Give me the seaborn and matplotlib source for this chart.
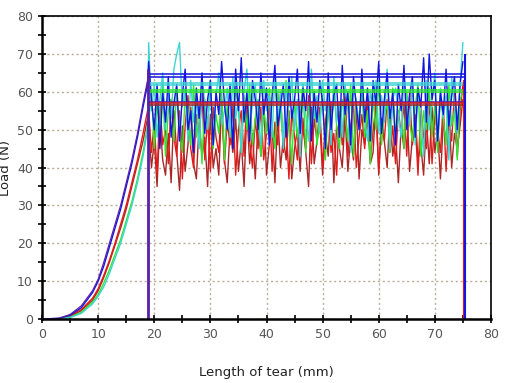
import numpy as np
import pandas as pd
import matplotlib
matplotlib.use("Agg")
import matplotlib.pyplot as plt
import seaborn as sns
from matplotlib.ticker import MultipleLocator

# rampa inicial (antes del desgarro)
ramp_x = [0, 3, 5, 7, 9, 10, 11, 12, 13, 14, 15, 16, 17, 18, 18.8]
ramp_blue = [0, 0.2, 1, 3, 7, 10, 14, 19, 24, 29, 35, 41, 48, 56, 62]
ramp_purple = [0, 0.2, 1.2, 3.5, 7.5, 10.5, 15, 20, 25, 30, 36, 42, 49, 57, 63]
ramp_red = [0, 0.1, 0.8, 2.5, 5.5, 8, 11.5, 15.5, 20, 25, 30, 36, 42, 49, 55]
ramp_darkred = [0, 0.1, 0.7, 2.2, 5, 7.5, 11, 15, 19.5, 24, 29, 35, 41, 47, 53]
ramp_green = [0, 0.1, 0.5, 1.8, 4.5, 6.5, 9.5, 13, 17, 21, 26, 31, 37, 44, 51]
ramp_cyan = [0, 0, 0.4, 1.5, 4, 6, 8.5, 12, 16, 20, 25, 30, 36, 43, 50]

# zona de desgarro, de 19 a 75 mm cada 0.5 mm
tear_x = np.arange(19, 75.01, 0.5)
blue = [68, 58, 50, 62, 45, 60, 52, 64, 48, 57,
        62, 47, 59, 66, 50, 55, 44, 61, 53, 65,
        49, 58, 63, 46, 60, 54, 68, 57, 50, 62,
        45, 66, 55, 69, 52, 60, 47, 63, 58, 50,
        65, 54, 61, 46, 59, 67, 51, 56, 62, 48,
        64, 53, 58, 66, 49, 61, 55, 68, 47, 60,
        52, 63, 57, 45, 65, 50, 59, 62, 48, 67,
        54, 60, 46, 64, 56, 50, 66, 52, 61, 47,
        63, 57, 68, 49, 58, 65, 53, 60, 46, 62,
        55, 67, 50, 59, 64, 48, 61, 56, 69, 52,
        70, 58, 63, 47, 60, 54, 66, 51, 59, 64,
        50, 62, 68]
red = [55, 44, 52, 38, 57, 46, 50, 41, 58, 48,
       43, 55, 37, 51, 59, 45, 40, 54, 47, 60,
       42, 53, 39, 56, 48, 44, 58, 41, 52, 46,
       57, 38, 50, 55, 43, 59, 47, 40, 53, 45,
       56, 42, 49, 58, 39, 52, 46, 60, 44, 51,
       37, 55, 48, 42, 57, 50, 45, 59, 41, 53,
       47, 56, 40, 52, 58, 44, 49, 38, 55, 46,
       60, 43, 51, 57, 40, 48, 54, 45, 59, 42,
       50, 56, 39, 53, 47, 58, 44, 51, 41, 55,
       49, 57, 43, 60, 46, 52, 38, 56, 48, 45,
       58, 41, 54, 50, 44, 57, 39, 53, 47, 60,
       43, 55, 62]
darkred = [50, 40, 47, 35, 53, 42, 38, 49, 36, 55,
           44, 34, 51, 39, 46, 56, 41, 37, 52, 43,
           48, 35, 54, 40, 45, 38, 57, 42, 36, 50,
           44, 53, 39, 47, 35, 55, 41, 49, 37, 52,
           43, 58, 38, 46, 51, 36, 54, 40, 48, 42,
           55, 37, 45, 50, 39, 53, 44, 35, 56, 41,
           47, 52, 38, 49, 43, 57, 36, 51, 45, 40,
           54, 39, 48, 42, 56, 37, 50, 46, 53, 41,
           44, 58, 38, 52, 47, 40, 55, 43, 49, 36,
           51, 45, 57, 39, 48, 54, 42, 46, 38, 53,
           41, 56, 44, 50, 37, 52, 47, 55, 40, 49,
           45, 51, 58]
green = [52, 60, 45, 57, 49, 62, 43, 55, 58, 47,
         61, 50, 44, 59, 53, 46, 62, 48, 56, 41,
         58, 51, 63, 45, 54, 49, 60, 42, 57, 52,
         47, 61, 55, 44, 59, 50, 62, 46, 53, 58,
         43, 56, 49, 61, 51, 45, 60, 54, 47, 63,
         52, 41, 58, 48, 55, 62, 44, 57, 50, 60,
         46, 53, 59, 42, 56, 49, 61, 51, 45, 58,
         54, 47, 62, 43, 57, 52, 60, 48, 55, 41,
         59, 50, 63, 46, 54, 57, 44, 61, 49, 53,
         58, 45, 60, 52, 47, 56, 62, 43, 55, 50,
         61, 48, 57, 44, 59, 53, 46, 62, 51, 55,
         42, 58, 60]
cyan = [73, 55, 62, 48, 58, 65, 50, 60, 53, 66,
        70, 73, 56, 61, 47, 63, 52, 58, 45, 64,
        57, 50, 62, 46, 59, 65, 51, 55, 61, 48,
        64, 53, 58, 44, 60, 66, 49, 57, 62, 51,
        46, 63, 55, 59, 48, 65, 52, 60, 45, 61,
        56, 64, 50, 58, 43, 62, 54, 47, 66, 53,
        59, 49, 63, 55, 60, 46, 64, 52, 57, 48,
        62, 55, 44, 61, 58, 50, 65, 53, 47, 60,
        56, 63, 49, 59, 52, 66, 45, 58, 61, 54,
        48, 64, 57, 51, 62, 46, 60, 55, 43, 63,
        50, 58, 65, 47, 61, 53, 59, 42, 64, 56,
        49, 62, 73]

# niveles medios (lineas horizontales)
mean_names = ["blue", "blue", "cyan", "cyan", "green", "green", "purple", "red", "darkred"]
mean_levels = [64.8, 63.8, 62.3, 61.7, 60.5, 60.0, 57.3, 57.0, 56.6]
x_start, x_end = 18.8, 75.3

colors = {"blue": "#1414e0", "purple": "#5a1fa8", "red": "#e41a1a",
          "darkred": "#a82828", "green": "#2ee62e", "cyan": "#3fd3d3"}

sns.set_style("white")
fig, ax = plt.subplots(figsize=(5.13, 3.83), dpi=100)
fig.subplots_adjust(left=0.082, right=0.957, bottom=0.167, top=0.958)

series = [("darkred", ramp_darkred, darkred), ("red", ramp_red, red),
          ("green", ramp_green, green), ("cyan", ramp_cyan, cyan),
          ("blue", ramp_blue, blue)]
for name, ramp, noise in series:
    df = pd.DataFrame({"x": list(ramp_x) + list(tear_x), "y": list(ramp) + list(noise)})
    sns.lineplot(data=df, x="x", y="y", color=colors[name], lw=1.0,
                 sort=False, estimator=None, ax=ax)

df_p = pd.DataFrame({"x": ramp_x, "y": ramp_purple})
sns.lineplot(data=df_p, x="x", y="y", color=colors["purple"], lw=0.9, sort=False, estimator=None, ax=ax)

for name, lvl in zip(mean_names, mean_levels):
    ax.hlines(lvl, x_start, x_end, color=colors[name], lw=1.1)

# lineas verticales inicio/fin
ax.vlines(x_start, 0, 66, color=colors["purple"], lw=2)
ax.vlines(x_end - 0.15, 0, 63, color=colors["red"], lw=1.5)
ax.vlines(x_end, 0, 70, color=colors["blue"], lw=1.5)

ax.set_xlim(0, 80)
ax.set_ylim(0, 80)
ax.xaxis.set_major_locator(MultipleLocator(10))
ax.xaxis.set_minor_locator(MultipleLocator(5))
ax.yaxis.set_major_locator(MultipleLocator(10))
ax.yaxis.set_minor_locator(MultipleLocator(5))
ax.tick_params(which="both", direction="inout", length=6, width=1.2, color="black",
               labelsize=9, labelcolor="#555555", bottom=True, left=True)
ax.grid(True, which="major", linestyle=(0, (1.5, 2)), color="#b8ae98", lw=1)
for side in ["left", "bottom"]:
    ax.spines[side].set_linewidth(1.8)
    ax.spines[side].set_color("black")
for side in ["top", "right"]:
    ax.spines[side].set_linewidth(1.2)
    ax.spines[side].set_color("black")

ax.set_xlabel("Length of tear (mm)", fontsize=9.5, color="#222222", labelpad=18)
ax.set_ylabel("Load (N)", fontsize=9.5, color="#222222")
ax.yaxis.set_label_coords(-0.066, 0.5)

fig.savefig("out.png", dpi=100)
